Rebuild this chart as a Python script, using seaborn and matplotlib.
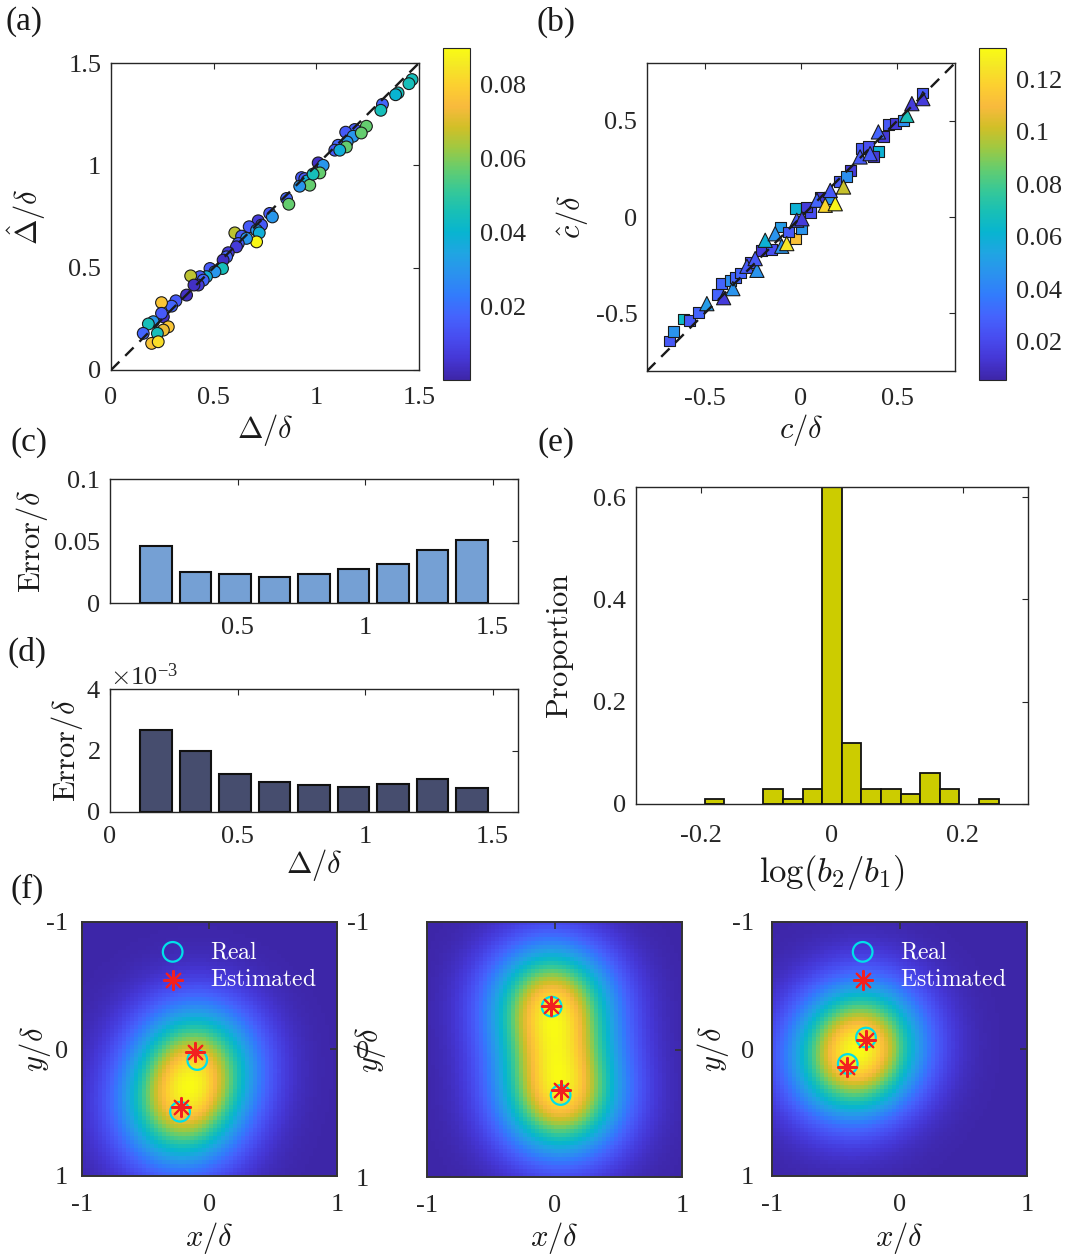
import numpy as np
import matplotlib
matplotlib.use("Agg")
import matplotlib.pyplot as plt
import seaborn as sns
from matplotlib.colors import LinearSegmentedColormap, Normalize
from matplotlib.ticker import FuncFormatter, ScalarFormatter

sns.set_theme(style="white")
plt.rcParams["font.family"] = ["Liberation Serif", "DejaVu Serif"]
plt.rcParams["mathtext.fontset"] = "cm"
plt.rcParams["axes.unicode_minus"] = False

# MATLAB parula (every 4th entry of the 64 colour table)
PARULA_POS = [0, 4, 8, 12, 16, 20, 24, 28, 32, 36, 40, 44, 48, 52, 56, 60, 63]
PARULA_RGB = [
    (0.2422, 0.1504, 0.6603), (0.2706, 0.2147, 0.8364), (0.2813, 0.3006, 0.9414),
    (0.2699, 0.3892, 0.9906), (0.1963, 0.4847, 0.9892), (0.1687, 0.5703, 0.9359),
    (0.1248, 0.6459, 0.8883), (0.0297, 0.7082, 0.8163), (0.0964, 0.7500, 0.7120),
    (0.2161, 0.7843, 0.5923), (0.3909, 0.8029, 0.4354), (0.6174, 0.7876, 0.2612),
    (0.8203, 0.7498, 0.1535), (0.9728, 0.7298, 0.2394), (0.9892, 0.8136, 0.1885),
    (0.9597, 0.9135, 0.1423), (0.9769, 0.9839, 0.0805),
]
parula = LinearSegmentedColormap.from_list(
    "parula", [(p / 63, c) for p, c in zip(PARULA_POS, PARULA_RGB)])

# === (a) real vs estimated separation, colour = error ===
a_true = [1.466, 1.451, 1.398, 1.386, 1.322, 1.314, 1.244, 1.187, 1.143, 1.179, 1.219,
          1.150, 1.106, 1.090, 1.146, 1.114, 1.009, 1.033, 1.017, 0.928, 0.944, 0.955,
          0.968, 0.919, 0.984, 0.855, 0.866, 0.773, 0.786, 0.717, 0.733, 0.673, 0.709,
          0.722, 0.603, 0.636, 0.709, 0.660, 0.620, 0.611, 0.571, 0.563, 0.546, 0.543,
          0.482, 0.506, 0.465, 0.433, 0.449, 0.388, 0.425, 0.404, 0.368, 0.316, 0.295,
          0.246, 0.255, 0.246, 0.206, 0.182, 0.157, 0.279, 0.255, 0.226, 0.198, 0.230]
a_est = [1.419, 1.399, 1.354, 1.345, 1.298, 1.269, 1.191, 1.175, 1.162, 1.142, 1.158,
         1.114, 1.098, 1.074, 1.090, 1.074, 1.012, 1.000, 0.963, 0.940, 0.935, 0.924,
         0.903, 0.898, 0.957, 0.838, 0.810, 0.765, 0.748, 0.729, 0.708, 0.700, 0.683,
         0.670, 0.670, 0.654, 0.626, 0.643, 0.618, 0.602, 0.573, 0.553, 0.537, 0.496,
         0.496, 0.480, 0.456, 0.456, 0.439, 0.460, 0.415, 0.415, 0.366, 0.338, 0.312,
         0.329, 0.260, 0.277, 0.236, 0.225, 0.179, 0.211, 0.195, 0.179, 0.130, 0.138]
a_err = [0.045, 0.045, 0.045, 0.040, 0.018, 0.045, 0.057, 0.015, 0.015, 0.030, 0.057,
         0.030, 0.018, 0.015, 0.057, 0.038, 0.004, 0.030, 0.057, 0.015, 0.015, 0.038,
         0.057, 0.030, 0.045, 0.018, 0.057, 0.015, 0.030, 0.007, 0.015, 0.015, 0.030,
         0.038, 0.066, 0.015, 0.089, 0.030, 0.015, 0.007, 0.007, 0.018, 0.004, 0.045,
         0.015, 0.030, 0.038, 0.015, 0.018, 0.066, 0.007, 0.004, 0.004, 0.015, 0.018,
         0.077, 0.004, 0.015, 0.030, 0.045, 0.018, 0.077, 0.072, 0.045, 0.077, 0.083]
a_clim = (0.0003, 0.0897)

# === (b) real vs estimated centre (squares: c1, triangles: c2) ===
b_sq_true = [-0.682, -0.662, -0.610, -0.579, -0.532, -0.433, -0.411, -0.368, -0.341,
             -0.316, -0.264, -0.203, -0.151, -0.108, -0.030, -0.065, 0.005, -0.030,
             0.048, 0.031, 0.100, 0.152, 0.200, 0.256, 0.238, 0.316, 0.350, 0.402,
             0.376, 0.428, 0.454, 0.489, 0.533, 0.633]
b_sq_est = [-0.644, -0.597, -0.530, -0.540, -0.494, -0.402, -0.346, -0.329, -0.312,
            -0.291, -0.234, -0.173, -0.170, -0.052, -0.112, -0.078, -0.061, 0.043,
            0.021, 0.052, 0.104, 0.095, 0.182, 0.243, 0.208, 0.355, 0.367, 0.338,
            0.312, 0.416, 0.481, 0.488, 0.499, 0.644]
b_sq_err = [0.026, 0.047, 0.065, 0.026, 0.030, 0.030, 0.030, 0.045, 0.030,
            0.030, 0.022, 0.015, 0.022, 0.050, 0.112, 0.026, 0.047, 0.060,
            0.022, 0.015, 0.015, 0.047, 0.026, 0.015, 0.045, 0.026, 0.022, 0.060,
            0.015, 0.015, 0.026, 0.015, 0.045, 0.026]
b_tri_true = [-0.489, -0.402, -0.354, -0.281, -0.229, -0.238, -0.186, -0.134, -0.100,
              -0.074, -0.022, 0.005, 0.083, 0.126, 0.178, 0.152, 0.221, 0.307, 0.359,
              0.402, 0.550, 0.576, 0.633]
b_tri_est = [-0.450, -0.419, -0.372, -0.256, -0.277, -0.216, -0.121, -0.087, -0.152,
             -0.138, -0.017, -0.009, 0.087, 0.061, 0.069, 0.138, 0.156, 0.312, 0.329,
             0.442, 0.528, 0.589, 0.615]
b_tri_err = [0.050, 0.015, 0.047, 0.026, 0.047, 0.026, 0.060, 0.047, 0.047,
             0.125, 0.026, 0.015, 0.030, 0.120, 0.130, 0.026, 0.100, 0.026, 0.026,
             0.030, 0.070, 0.015, 0.015]
b_clim = (0.0055, 0.132)

# === (c), (d) mean errors per separation bin ===
sep_bins = [0.18, 0.335, 0.49, 0.645, 0.80, 0.955, 1.11, 1.265, 1.42]
err_sep = [0.0462, 0.0250, 0.0231, 0.0212, 0.0236, 0.0274, 0.0317, 0.0427, 0.0510]
err_ctr = [2.68e-3, 1.97e-3, 1.25e-3, 0.98e-3, 0.87e-3, 0.81e-3, 0.90e-3, 1.07e-3, 0.77e-3]

# === (e) histogram of log(b2/b1) ===
e_bins = [-0.18, -0.09, -0.06, -0.03, 0.0, 0.03, 0.06, 0.09, 0.12, 0.15, 0.18, 0.24]
e_prop = [0.01, 0.03, 0.01, 0.03, 0.62, 0.12, 0.03, 0.03, 0.02, 0.06, 0.03, 0.01]

# === (f) three example images: real and estimated emitter positions ===
f_real_x = [[-0.096, -0.231], [-0.022, 0.048], [-0.263, -0.406]]
f_real_y = [[0.087, 0.494], [-0.336, 0.357], [-0.090, 0.118]]
f_est_x = [[-0.114, -0.226], [-0.027, 0.048], [-0.263, -0.410]]
f_est_y = [[0.021, 0.454], [-0.340, 0.318], [-0.070, 0.140]]
NPIX = 64
PSF_SIGMA = 0.33

# ---------------------------------------------------------------
W, H = 1080, 1256
fig = plt.figure(figsize=(W / 100, H / 100), dpi=100)

TICK, LAB = 19, 22
fmt = FuncFormatter(lambda v, _: f"{v:g}")


def box(l, t, r, b):
    return [l / W, 1 - b / H, (r - l) / W, (b - t) / H]


def style(ax, xpad=10, ypad=7):
    ax.tick_params(direction="in", top=True, right=True, length=4, width=0.8,
                   labelsize=TICK, color="#262626", labelcolor="#262626")
    ax.tick_params(axis="x", pad=xpad)
    ax.tick_params(axis="y", pad=ypad)
    for sp in ax.spines.values():
        sp.set_visible(True)
        sp.set_linewidth(1.0)
        sp.set_color("#262626")


def labels(ax, bx, xlab, ylab, xlab_y, ylab_x, xsize=LAB):
    l, t, r, b = bx
    if xlab:
        ax.set_xlabel(xlab, fontsize=xsize, color="#1a1a1a")
        ax.xaxis.set_label_coords(0.5, (b - xlab_y) / (b - t))
        ax.xaxis.label.set_va("center")
    if ylab:
        ax.set_ylabel(ylab, fontsize=LAB, color="#1a1a1a")
        ax.yaxis.set_label_coords((ylab_x - l) / (r - l), 0.5)
        ax.yaxis.label.set_va("center")


def colorbar(cbx, clim, ticks):
    cax = fig.add_axes(box(*cbx))
    sm = plt.cm.ScalarMappable(norm=Normalize(*clim), cmap=parula)
    cb = fig.colorbar(sm, cax=cax, ticks=ticks, format=fmt)
    cb.outline.set_linewidth(0.8)
    cb.outline.set_edgecolor("#262626")
    cax.tick_params(direction="in", length=3, width=0.6, labelsize=TICK, pad=7,
                    color="#262626", labelcolor="#262626")


dash = (0, (5, 3.5))

# (a)
bx_a = (111, 63, 419, 370)
ax = fig.add_axes(box(*bx_a))
sns.scatterplot(x=a_true, y=a_est, hue=a_err, hue_norm=a_clim, palette=parula,
                s=72, edgecolor="#1a1a1a", linewidth=0.8, legend=False, ax=ax, zorder=3)
ax.axline((0, 0), slope=1, color="k", ls=dash, lw=1.7, zorder=4)
ax.set_xlim(0, 1.5)
ax.set_ylim(0, 1.5)
ax.set_xticks([0, 0.5, 1, 1.5])
ax.set_yticks([0, 0.5, 1, 1.5])
ax.xaxis.set_major_formatter(fmt)
ax.yaxis.set_major_formatter(fmt)
style(ax, xpad=12)
labels(ax, bx_a, r"$\Delta/\delta$", r"$\hat{\Delta}/\delta$", 430, 27)
colorbar((443, 48, 470, 380), a_clim, [0.02, 0.04, 0.06, 0.08])

# (b)
bx_b = (647, 63, 955, 371)
ax = fig.add_axes(box(*bx_b))
sns.scatterplot(x=b_sq_true, y=b_sq_est, hue=b_sq_err, hue_norm=b_clim, palette=parula,
                marker="s", s=62, edgecolor="#1a1a1a", linewidth=0.8, legend=False,
                ax=ax, zorder=3)
sns.scatterplot(x=b_tri_true, y=b_tri_est, hue=b_tri_err, hue_norm=b_clim, palette=parula,
                marker="^", s=105, edgecolor="#1a1a1a", linewidth=0.8, legend=False,
                ax=ax, zorder=3)
ax.axline((0, 0), slope=1, color="k", ls=dash, lw=1.7, zorder=4)
ax.set_xlim(-0.8, 0.8)
ax.set_ylim(-0.8, 0.8)
ax.set_xticks([-0.5, 0, 0.5])
ax.set_yticks([-0.5, 0, 0.5])
ax.xaxis.set_major_formatter(fmt)
ax.yaxis.set_major_formatter(fmt)
style(ax, xpad=12)
labels(ax, bx_b, r"$c/\delta$", r"$\hat{c}/\delta$", 430, 572)
colorbar((979, 48, 1006, 380), b_clim, [0.02, 0.04, 0.06, 0.08, 0.1, 0.12])

# (c)
bx_c = (110, 479, 518, 603)
ax = fig.add_axes(box(*bx_c))
sns.barplot(x=sep_bins, y=err_sep, native_scale=True, orient="x", width=0.8,
            color="#75A0D4", saturation=1, edgecolor="#111111", linewidth=1.5,
            errorbar=None, ax=ax)
ax.set_xlim(0, 1.6)
ax.set_ylim(0, 0.1)
ax.set_xticks([0.5, 1, 1.5])
ax.set_yticks([0, 0.05, 0.1])
ax.xaxis.set_major_formatter(fmt)
ax.yaxis.set_major_formatter(fmt)
style(ax, xpad=10)
labels(ax, bx_c, None, r"$\mathrm{Error}/\delta$", None, 32)

# (d)
bx_d = (110, 689, 518, 812)
ax = fig.add_axes(box(*bx_d))
sns.barplot(x=sep_bins, y=err_ctr, native_scale=True, orient="x", width=0.8,
            color="#464D6E", saturation=1, edgecolor="#111111", linewidth=1.5,
            errorbar=None, ax=ax)
ax.set_xlim(0, 1.6)
ax.set_ylim(0, 0.004)
ax.set_xticks([0, 0.5, 1, 1.5])
ax.set_yticks([0, 0.002, 0.004])
ax.xaxis.set_major_formatter(fmt)
sf = ScalarFormatter(useMathText=True)
sf.set_powerlimits((0, 0))
ax.yaxis.set_major_formatter(sf)
style(ax, xpad=10)
ax.yaxis.get_offset_text().set_fontsize(TICK)
labels(ax, bx_d, r"$\Delta/\delta$", r"$\mathrm{Error}/\delta$", 865, 67)

# (e)
bx_e = (636, 487, 1028, 804)
ax = fig.add_axes(box(*bx_e))
sns.barplot(x=e_bins, y=e_prop, native_scale=True, orient="x", width=1.0,
            color="#CCCC00", saturation=1, edgecolor="#111111", linewidth=1.3,
            errorbar=None, ax=ax)
ax.set_xlim(-0.3, 0.3)
ax.set_ylim(0, 0.62)
ax.set_xticks([-0.2, 0, 0.2])
ax.set_yticks([0, 0.2, 0.4, 0.6])
ax.xaxis.set_major_formatter(fmt)
ax.yaxis.set_major_formatter(fmt)
style(ax, xpad=15)
labels(ax, bx_e, r"$\log(b_2/b_1)$", r"$\mathrm{Proportion}$", 873, 560, xsize=25)

# (f)
f_boxes = [(82, 922, 337, 1176), (427, 922, 682, 1177), (772, 922, 1027, 1176)]
f_ypad = [10, 42, 13]
f_ylab_x = [35, 370, 713]
px = (np.arange(NPIX) + 0.5) / NPIX * 2 - 1
X, Y = np.meshgrid(px, px)
for i, bx in enumerate(f_boxes):
    ax = fig.add_axes(box(*bx))
    img = np.zeros_like(X)
    for x0, y0 in zip(f_real_x[i], f_real_y[i]):
        img += np.exp(-((X - x0) ** 2 + (Y - y0) ** 2) / (2 * PSF_SIGMA ** 2))
    ax.imshow(img, cmap=parula, extent=(-1, 1, 1, -1), interpolation="nearest",
              aspect="auto")
    sns.scatterplot(x=f_real_x[i], y=f_real_y[i], marker="o", s=200, color="none",
                    edgecolor="#00E0EA", linewidth=1.6, label=r"$\mathrm{Real}$",
                    ax=ax, zorder=3)
    sns.scatterplot(x=f_est_x[i], y=f_est_y[i], marker=(8, 2, 0), s=190,
                    color="#F22020", linewidth=1.5, label=r"$\mathrm{Estimated}$",
                    ax=ax, zorder=4)
    ax.set_xlim(-1, 1)
    ax.set_ylim(1, -1)
    ax.set_xticks([-1, 0, 1])
    ax.set_yticks([-1, 0, 1])
    ax.xaxis.set_major_formatter(fmt)
    ax.yaxis.set_major_formatter(fmt)
    style(ax, xpad=13, ypad=f_ypad[i])
    ax.tick_params(length=5, width=1.2, color="#333333")
    for sp in ax.spines.values():
        sp.set_linewidth(1.4)
        sp.set_color("#333333")
    labels(ax, bx, r"$x/\delta$", r"$y/\delta$", 1238, f_ylab_x[i])
    if i == 1:
        ax.get_legend().remove()
    else:
        ax.legend(loc="upper left", bbox_to_anchor=(0.30, 0.925), frameon=False,
                  borderaxespad=0, borderpad=0, handlelength=1.2, handletextpad=1.0,
                  labelspacing=0.25, fontsize=17, labelcolor="white")

# panel letters
for lab, (x, y) in zip(["(a)", "(b)", "(c)", "(d)", "(e)", "(f)"],
                       [(24, 22), (556, 22), (29, 443), (27, 652), (556, 443), (27, 889)]):
    fig.text(x / W, 1 - y / H, lab, ha="center", va="center", fontsize=24,
             color="#1a1a1a")

fig.savefig("out.png", dpi=100)
